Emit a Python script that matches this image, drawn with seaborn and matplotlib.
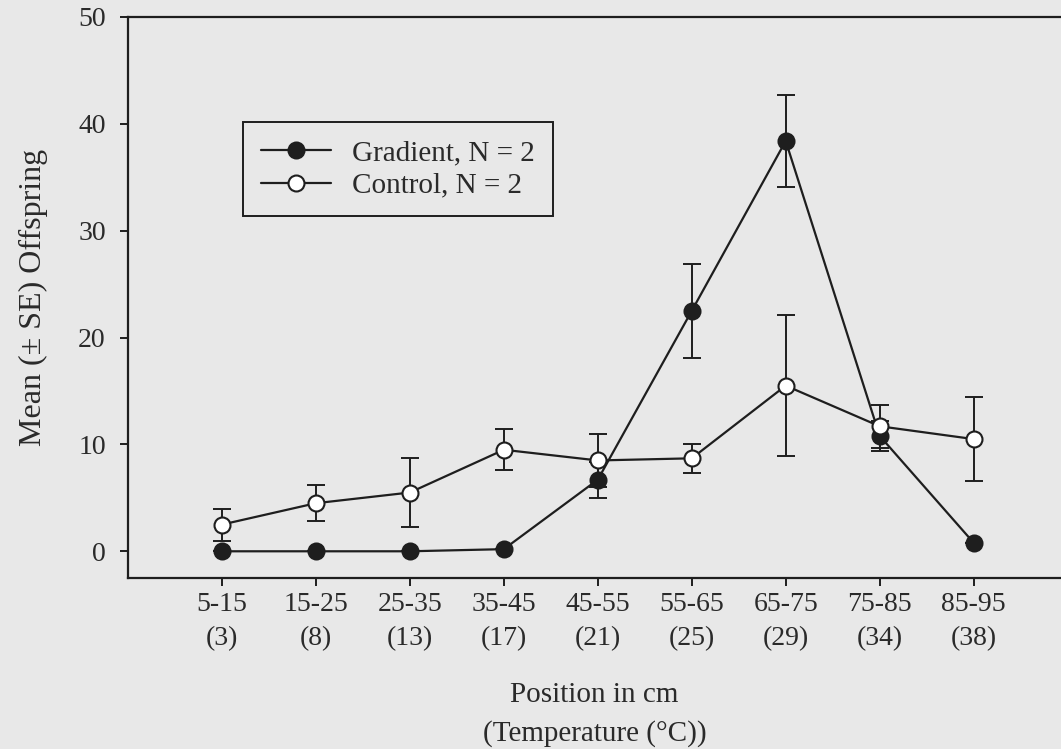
import matplotlib
matplotlib.use("Agg")
import matplotlib.pyplot as plt
import seaborn as sns
import pandas as pd
import numpy as np

positions = ["5-15", "15-25", "25-35", "35-45", "45-55", "55-65", "65-75", "75-85", "85-95"]
temperatures = ["(3)", "(8)", "(13)", "(17)", "(21)", "(25)", "(29)", "(34)", "(38)"]

gradient_mean = [0.0, 0.0, 0.0, 0.2, 6.7, 22.5, 38.4, 10.8, 0.8]
gradient_se = [0.0, 0.0, 0.0, 0.0, 1.7, 4.4, 4.3, 1.4, 0.0]
control_mean = [2.5, 4.5, 5.5, 9.5, 8.5, 8.7, 15.5, 11.7, 10.5]
control_se = [1.5, 1.7, 3.2, 1.9, 2.5, 1.35, 6.6, 2.0, 3.9]

sns.set_theme(style="ticks")
plt.rcParams["font.family"] = ["Liberation Serif", "DejaVu Serif"]

bg = "#e8e8e8"
fig = plt.figure(figsize=(10.61, 7.49), dpi=100, facecolor=bg)
ax = fig.add_axes([128 / 1061, 1 - 578 / 749, 1 - 128 / 1061, (578 - 17) / 749])
ax.set_facecolor(bg)

x_idx = list(range(len(positions)))
df_g = pd.DataFrame({"x": x_idx, "y": gradient_mean})
df_c = pd.DataFrame({"x": x_idx, "y": control_mean})

ink = "#1e1e1e"
txt = "#2a2a2a"
# error bars
ax.errorbar(x_idx, gradient_mean, yerr=gradient_se, fmt="none", ecolor=ink,
            elinewidth=1.4, capsize=6.5, capthick=1.4, zorder=2)
ax.errorbar(x_idx, control_mean, yerr=control_se, fmt="none", ecolor=ink,
            elinewidth=1.4, capsize=6.5, capthick=1.4, zorder=2)

sns.lineplot(data=df_g, x="x", y="y", ax=ax, color=ink, marker="o", markersize=11.5,
             markerfacecolor=ink, markeredgecolor=ink, markeredgewidth=1.5,
             linewidth=1.6, label="Gradient, N = 2", zorder=3)
sns.lineplot(data=df_c, x="x", y="y", ax=ax, color=ink, marker="o", markersize=11.5,
             markerfacecolor="white", markeredgecolor=ink, markeredgewidth=1.5,
             linewidth=1.6, label="Control, N = 2", zorder=4)

ax.set_xlim(-1, 8.93)
ax.set_ylim(-2.5, 50)
ax.set_yticks([0, 10, 20, 30, 40, 50])
ax.set_xticks(x_idx)
ax.set_xticklabels([f"{p}\n{t}" for p, t in zip(positions, temperatures)],
                   linespacing=1.5)

ax.tick_params(axis="both", direction="out", colors=ink, labelcolor=txt,
               labelsize=20, width=1.4)
ax.tick_params(axis="y", length=6, pad=10)
ax.tick_params(axis="x", length=6, pad=4)

for s in ["left", "bottom", "top"]:
    ax.spines[s].set_color(ink)
    ax.spines[s].set_linewidth(1.6)
ax.spines["right"].set_visible(False)

ax.set_xlabel("Position in cm\n(Temperature (°C))", fontsize=21, color=txt,
              labelpad=22, linespacing=1.6)
ax.set_ylabel("Mean (± SE) Offspring", fontsize=23, color=txt, labelpad=22)

leg = ax.legend(loc="upper left", bbox_to_anchor=(115 / 933, (578 - 122) / 561), frameon=True,
                fancybox=False, edgecolor=ink, facecolor=bg, framealpha=1,
                fontsize=21, handlelength=2.4, borderpad=0.6, labelspacing=0.22,
                handletextpad=0.75, borderaxespad=0)
leg.get_frame().set_linewidth(1.4)
for t in leg.get_texts():
    t.set_color(txt)

fig.savefig("out.png", dpi=100, facecolor=bg)
